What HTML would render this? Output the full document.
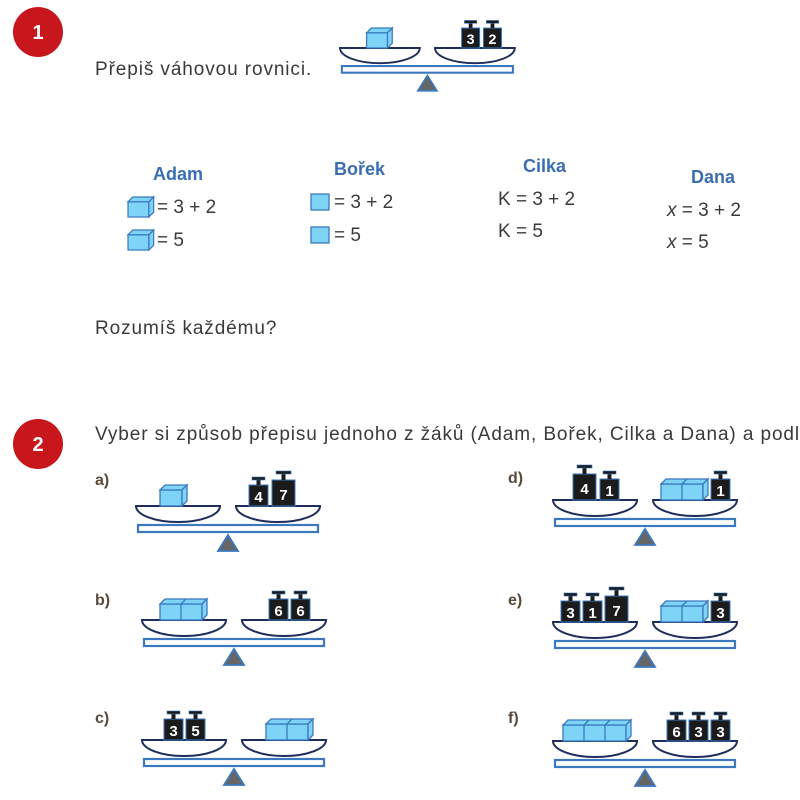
<!DOCTYPE html>
<html><head><meta charset="utf-8"><style>
html,body{margin:0;padding:0;background:#fff}
svg{display:block;font-family:"Liberation Sans",sans-serif}
.t{fill:#3a3a3a;font-size:19px}
.s{fill:#3a3a3a;font-size:19px;letter-spacing:0.9px}
.n{fill:#3b6db3;font-size:18px;font-weight:bold}
.lb{fill:#5a4a3a;font-size:16px;font-weight:bold}
.wt{fill:#fff;font-size:15px;font-weight:bold;text-anchor:middle}
</style></head><body>
<svg width="800" height="800" viewBox="0 0 800 800" xmlns="http://www.w3.org/2000/svg">
<defs>
<g id="scale">
 <path d="M0,0 H84 A42,16 0 0 1 0,0 Z" fill="#fff" stroke="#1f2d5c" stroke-width="2"/>
 <path d="M100,0 H184 A42,16 0 0 1 100,0 Z" fill="#fff" stroke="#1f2d5c" stroke-width="2"/>
 <rect x="2" y="19" width="180" height="7" fill="#fff" stroke="#3b78c0" stroke-width="2.2"/>
 <polygon points="92,29 82,45 102,45" fill="#666" stroke="#3b78c0" stroke-width="1.8"/>
</g>
<g id="w">
 <rect x="0" y="-21" width="19" height="21" fill="#1b1b1b" stroke="#3b78c0" stroke-width="1"/>
 <rect x="7.5" y="-27" width="4" height="6" fill="#1b1b1b"/>
 <rect x="3" y="-29" width="13" height="3" fill="#1b1b1b" stroke="#3b78c0" stroke-width=".6"/>
</g>
<g id="W">
 <rect x="0" y="-26" width="23" height="26" fill="#1b1b1b" stroke="#3b78c0" stroke-width="1"/>
 <rect x="9.5" y="-32" width="4" height="6" fill="#1b1b1b"/>
 <rect x="4" y="-35" width="15" height="3" fill="#1b1b1b" stroke="#3b78c0" stroke-width=".6"/>
</g>
<g id="c1" stroke="#3b78c0" stroke-width="1.3" fill="#7dd4f7">
 <rect x="0" y="-16" width="22" height="16"/>
 <polygon points="0,-16 5,-21 27,-21 22,-16"/>
 <polygon points="22,-16 27,-21 27,-5 22,0"/>
</g>
<g id="c2" stroke="#3b78c0" stroke-width="1.3" fill="#7dd4f7">
 <rect x="0" y="-16" width="42" height="16"/>
 <line x1="21" y1="-16" x2="21" y2="0"/>
 <polygon points="0,-16 5,-21 47,-21 42,-16"/>
 <line x1="21" y1="-16" x2="26" y2="-21"/>
 <polygon points="42,-16 47,-21 47,-5 42,0"/>
</g>
<g id="c3" stroke="#3b78c0" stroke-width="1.3" fill="#7dd4f7">
 <rect x="0" y="-16" width="63" height="16"/>
 <line x1="21" y1="-16" x2="21" y2="0"/><line x1="42" y1="-16" x2="42" y2="0"/>
 <polygon points="0,-16 5,-21 68,-21 63,-16"/>
 <line x1="21" y1="-16" x2="26" y2="-21"/><line x1="42" y1="-16" x2="47" y2="-21"/>
 <polygon points="63,-16 68,-21 68,-5 63,0"/>
</g>
</defs>

<circle cx="38" cy="32" r="25" fill="#c8161d"/>
<text x="38" y="39" fill="#fff" font-size="20" font-weight="bold" text-anchor="middle">1</text>
<text x="95" y="75" class="s">Přepiš váhovou rovnici.</text>

<g transform="translate(340,48) scale(0.95)">
 <use href="#scale"/>
 <use href="#c1" transform="translate(28,0)"/>
 <use href="#w" transform="translate(128,0)"/><text x="137.5" y="-4" class="wt">3</text>
 <use href="#w" transform="translate(151,0)"/><text x="160.5" y="-4" class="wt">2</text>
</g>

<text x="153" y="180" class="n">Adam</text>
<use href="#c1" transform="translate(128,217) scale(0.95)"/>
<text x="157" y="213" class="t">= 3 + 2</text>
<use href="#c1" transform="translate(128,250) scale(0.95)"/>
<text x="157" y="246" class="t">= 5</text>

<text x="334" y="175" class="n">Bořek</text>
<rect x="311" y="194" width="18" height="16" fill="#7dd4f7" stroke="#3b78c0" stroke-width="1.3"/>
<text x="334" y="208" class="t">=  3 + 2</text>
<rect x="311" y="227" width="18" height="16" fill="#7dd4f7" stroke="#3b78c0" stroke-width="1.3"/>
<text x="334" y="241" class="t">= 5</text>

<text x="523" y="172" class="n">Cilka</text>
<text x="498" y="205" class="t">K = 3 + 2</text>
<text x="498" y="237" class="t">K = 5</text>

<text x="691" y="183" class="n">Dana</text>
<text x="667" y="216" class="t"><tspan font-style="italic">x</tspan> = 3 + 2</text>
<text x="667" y="248" class="t"><tspan font-style="italic">x</tspan> = 5</text>

<text x="95" y="334" class="s">Rozumíš každému?</text>

<circle cx="38" cy="444" r="25" fill="#c8161d"/>
<text x="38" y="451" fill="#fff" font-size="20" font-weight="bold" text-anchor="middle">2</text>
<text x="95" y="440" class="s">Vyber si způsob přepisu jednoho z žáků (Adam, Bořek, Cilka a Dana) a podl</text>

<text x="95" y="485" class="lb">a)</text>
<g transform="translate(136,506)">
 <use href="#scale"/>
 <use href="#c1" transform="translate(24,0)"/>
 <use href="#w" transform="translate(113,0)"/><text x="122.5" y="-4" class="wt">4</text>
 <use href="#W" transform="translate(136,0)"/><text x="147.5" y="-6" class="wt" font-size="17">7</text>
</g>

<text x="95" y="605" class="lb">b)</text>
<g transform="translate(142,620)">
 <use href="#scale"/>
 <use href="#c2" transform="translate(18,0)"/>
 <use href="#w" transform="translate(127,0)"/><text x="136.5" y="-4" class="wt">6</text>
 <use href="#w" transform="translate(149,0)"/><text x="158.5" y="-4" class="wt">6</text>
</g>

<text x="95" y="723" class="lb">c)</text>
<g transform="translate(142,740)">
 <use href="#scale"/>
 <use href="#w" transform="translate(22,0)"/><text x="31.5" y="-4" class="wt">3</text>
 <use href="#w" transform="translate(44,0)"/><text x="53.5" y="-4" class="wt">5</text>
 <use href="#c2" transform="translate(124,0)"/>
</g>

<text x="508" y="483" class="lb">d)</text>
<g transform="translate(553,500)">
 <use href="#scale"/>
 <use href="#W" transform="translate(20,0)"/><text x="31.5" y="-6" class="wt" font-size="17">4</text>
 <use href="#w" transform="translate(47,0)"/><text x="56.5" y="-4" class="wt">1</text>
 <use href="#c2" transform="translate(108,0)"/>
 <use href="#w" transform="translate(158,0)"/><text x="167.5" y="-4" class="wt">1</text>
</g>

<text x="508" y="605" class="lb">e)</text>
<g transform="translate(553,622)">
 <use href="#scale"/>
 <use href="#w" transform="translate(8,0)"/><text x="17.5" y="-4" class="wt">3</text>
 <use href="#w" transform="translate(30,0)"/><text x="39.5" y="-4" class="wt">1</text>
 <use href="#W" transform="translate(52,0)"/><text x="63.5" y="-6" class="wt" font-size="17">7</text>
 <use href="#c2" transform="translate(108,0)"/>
 <use href="#w" transform="translate(158,0)"/><text x="167.5" y="-4" class="wt">3</text>
</g>

<text x="508" y="723" class="lb">f)</text>
<g transform="translate(553,741)">
 <use href="#scale"/>
 <use href="#c3" transform="translate(10,0)"/>
 <use href="#w" transform="translate(114,0)"/><text x="123.5" y="-4" class="wt">6</text>
 <use href="#w" transform="translate(136,0)"/><text x="145.5" y="-4" class="wt">3</text>
 <use href="#w" transform="translate(158,0)"/><text x="167.5" y="-4" class="wt">3</text>
</g>
</svg>
</body></html>
